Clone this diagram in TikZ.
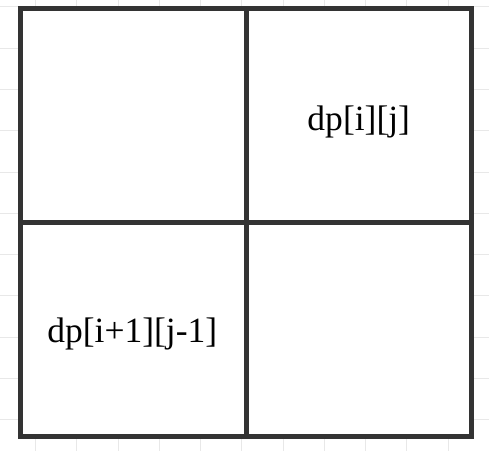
\documentclass[tikz,border=0pt]{standalone}
\usepackage{fontspec}
\setmainfont{Liberation Serif}
\usetikzlibrary{positioning}

\begin{document}
\begin{tikzpicture}[
    x=1pt, y=-1pt,
    node distance=0pt,
    cell/.style={draw=black!80, fill=white, line width=5pt, outer sep=0pt, inner sep=0pt, minimum width=225.5pt, minimum height=214pt},
    entry/.style={inner sep=0pt, font=\fontsize{35.5}{40}\selectfont},
    gridline/.style={draw=black!9, line width=1pt},
]
    \useasboundingbox (0,0) rectangle (489,451);
    \foreach \i in {0,...,11} \draw[gridline] ({35.7+41.25*\i},0) -- ++(0,451);
    \foreach \j in {0,...,10} \draw[gridline] (0,{6.8+41.3*\j}) -- ++(489,0);

    \node[cell] (topleft) at (133.25,115.5) {};
    \node[cell, right=of topleft] (topright) {};
    \node[cell, below=of topleft] (botleft) {};
    \node[cell, below=of topright] (botright) {};

    \node[entry, yshift=-6.5pt] (dpij) at (topright) {dp[i][j]};
    \node[entry, yshift=-4pt, xshift=-1pt] (dpnext) at (botleft) {dp[i+1][j-1]};
\end{tikzpicture}
\end{document}
